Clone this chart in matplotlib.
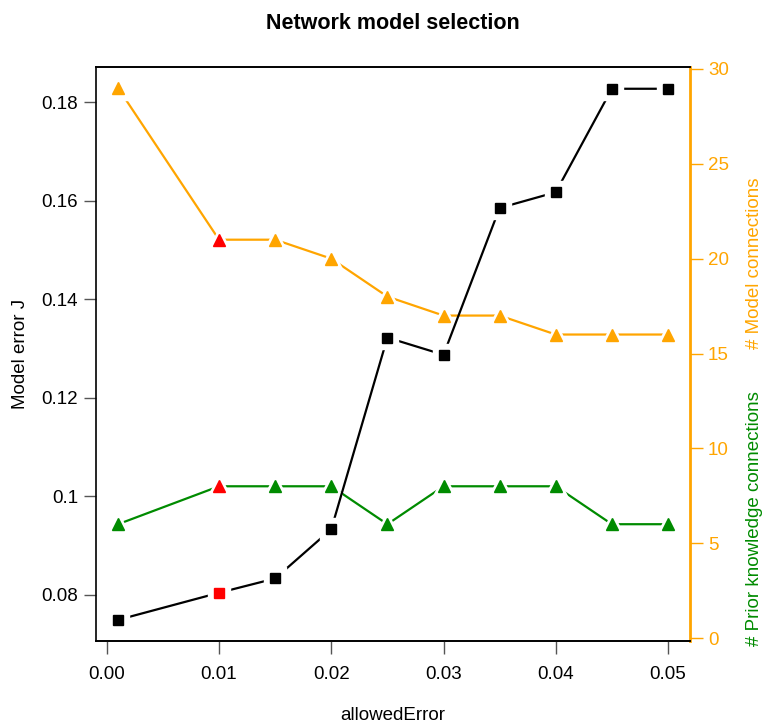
import matplotlib
matplotlib.use("Agg")
import matplotlib.pyplot as plt

plt.rcParams['font.family'] = ['Liberation Sans', 'DejaVu Sans']

allowed_error = [0.001, 0.01, 0.015, 0.02, 0.025, 0.03, 0.035, 0.04, 0.045, 0.05]
model_error = [0.0749, 0.0804, 0.0833, 0.0933, 0.1322, 0.1287, 0.1585, 0.1617, 0.1827, 0.1827]
model_conn = [29, 21, 21, 20, 18, 17, 17, 16, 16, 16]
prior_conn = [6, 8, 8, 8, 6, 8, 8, 8, 6, 6]
selected = 1  # index of the chosen model (drawn in red)

ORANGE = '#FFA500'
GREEN = '#008B00'
FS = 13.5


def r_style(ax, x, y, color, marker, size):
    # R type="b": line with gaps around the points
    ax.plot(x, y, color=color, lw=1.6, zorder=2)
    ax.plot(x, y, ls='none', marker=marker, ms=size + 8, mfc='white', mec='white', zorder=3)
    cols = [color] * len(x)
    cols[selected] = 'red'
    for xi, yi, c in zip(x, y, cols):
        ax.plot(xi, yi, ls='none', marker=marker, ms=size, mfc=c, mec=c, zorder=4)


fig = plt.figure(figsize=(7.62, 7.26), dpi=100)
ax = fig.add_axes([0.126, 0.117, 0.7795, 0.7906])
ax2 = ax.twinx()
ax.set_zorder(2)
ax.patch.set_visible(False)

r_style(ax2, allowed_error, model_conn, ORANGE, '^', 9)
r_style(ax2, allowed_error, prior_conn, GREEN, '^', 9)
r_style(ax, allowed_error, model_error, 'black', 's', 7.5)

ax.set_xlim(-0.00096, 0.05196)
ax.set_ylim(0.0706, 0.1871)
ax2.set_ylim(-0.16, 30.1)

ax.set_xticks([0.0, 0.01, 0.02, 0.03, 0.04, 0.05])
ax.set_xticklabels(['0.00', '0.01', '0.02', '0.03', '0.04', '0.05'])
ax.set_yticks([0.08, 0.10, 0.12, 0.14, 0.16, 0.18])
ax.set_yticklabels(['0.08', '0.1', '0.12', '0.14', '0.16', '0.18'])
ax2.set_yticks([0, 5, 10, 15, 20, 25, 30])

ax.tick_params(axis='x', length=9, width=1, color='#555555', labelsize=FS, pad=9)
ax.tick_params(axis='y', length=9, width=1, color='#555555', labelsize=FS, pad=4)
ax2.tick_params(axis='y', length=9, width=1, color=ORANGE, labelcolor=ORANGE, labelsize=FS, pad=4)

for a in (ax, ax2):
    for s in a.spines.values():
        s.set_linewidth(1.2)
ax.spines['right'].set_visible(False)
ax2.spines['right'].set_color(ORANGE)
ax2.spines['right'].set_linewidth(2)
ax2.spines['left'].set_visible(False)

ax.set_ylabel('Model error J', fontsize=FS, labelpad=9)
ax.set_xlabel('allowedError', fontsize=FS, labelpad=17)
fig.text(0.516, 0.968, 'Network model selection', ha='center', va='center',
         fontsize=15.5, fontweight='bold')

fig.text(0.99, 0.638, '# Model connections', rotation=90, ha='center', va='center',
         fontsize=FS, color=ORANGE)
fig.text(0.99, 0.286, '# Prior knowledge connections', rotation=90, ha='center', va='center',
         fontsize=FS, color=GREEN)

fig.savefig('out.png', dpi=100)
